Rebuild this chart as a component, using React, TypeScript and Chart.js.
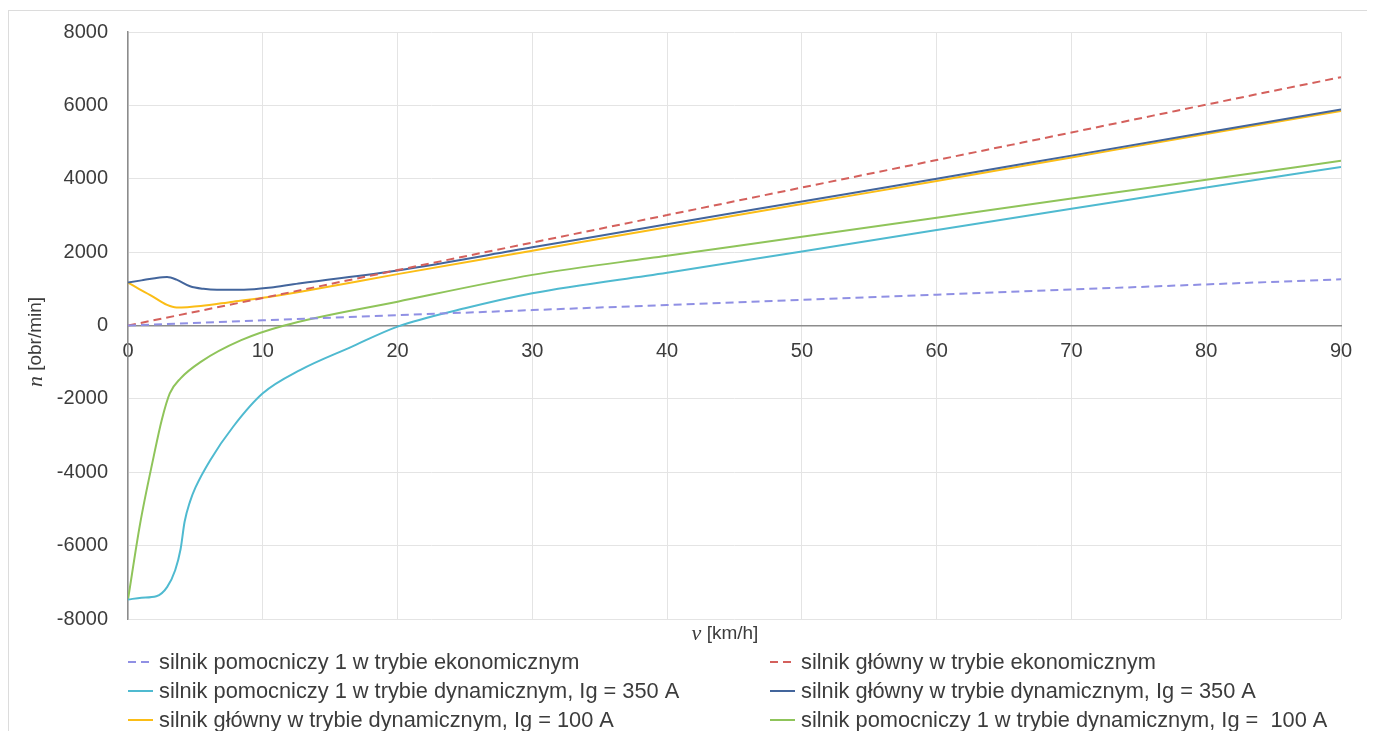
import React, { useEffect, useRef } from "react";
import { Chart, registerables } from "chart.js";

Chart.register(...registerables);

// ---- data ----
const V_LIN = [0, 10, 20, 30, 40, 50, 60, 70, 80, 90];
const N_AUX_ECO = [0, 140, 280, 420, 560, 700, 840, 980, 1120, 1260];
const N_MAIN_ECO = [0, 750, 1510, 2260, 3010, 3760, 4510, 5260, 6020, 6770];

const V_MAIN_350 = [0, 1, 2, 2.9, 3.6, 4.6, 5.6, 6.6, 8.6, 10.8, 12.8, 20, 30, 40, 50, 60, 70, 80, 90];
const N_MAIN_350 = [1170, 1230, 1290, 1320, 1250, 1070, 1000, 975, 975, 1045, 1150, 1500, 2130, 2760, 3380, 4000, 4630, 5260, 5890];

const V_MAIN_100 = [0, 0.8, 1.65, 2.9, 3.6, 4.4, 5.4, 7.8, 10.3, 12.8, 20, 30, 40, 50, 60, 70, 80, 90];
const N_MAIN_100 = [1170, 1000, 830, 560, 490, 500, 530, 650, 770, 920, 1400, 2040, 2680, 3310, 3940, 4580, 5220, 5850];

const V_AUX_100 = [0, 0.9, 1.9, 2.5, 3.1, 3.9, 5.4, 8.4, 11.6, 20, 30, 40, 50, 60, 70, 80, 90];
const N_AUX_100 = [-7470, -5400, -3580, -2580, -1850, -1440, -990, -400, 0, 650, 1380, 1900, 2420, 2940, 3460, 3970, 4490];

const V_AUX_350 = [0, 1, 2.1, 2.9, 3.5, 3.9, 4.2, 4.6, 5.0, 6.1, 7.8, 10.0, 12.8, 16.5, 20, 25, 30, 40, 50, 60, 70, 80, 90];
const N_AUX_350 = [-7470, -7420, -7380, -7130, -6670, -6100, -5350, -4800, -4420, -3670, -2760, -1850, -1210, -595, -30, 470, 880, 1440, 2020, 2600, 3180, 3760, 4320];

const X_MIN = 0;
const X_MAX = 90;
const X_STEP = 10;
const Y_MIN = -8000;
const Y_MAX = 8000;
const Y_STEP = 2000;

const LABELS = [
  "silnik pomocniczy 1 w trybie ekonomicznym",
  "silnik główny w trybie ekonomicznym",
  "silnik pomocniczy 1 w trybie dynamicznym, Ig = 350 A",
  "silnik główny w trybie dynamicznym, Ig = 350 A",
  "silnik główny w trybie dynamicznym, Ig = 100 A",
  "silnik pomocniczy 1 w trybie dynamicznym, Ig =  100 A",
];

const COLORS = ["#9090e4", "#d4605c", "#4fbad0", "#43659c", "#fbbd16", "#8fc45a"];
const DASHED = [true, true, false, false, false, false];

const X_TITLE_V = "v";
const X_TITLE_REST = " [km/h]";
const Y_TITLE_N = "n";
const Y_TITLE_REST = " [obr/min]";

// ---- styling ----
const SANS = '"Liberation Sans", Arial, sans-serif';
const SERIF = '"Liberation Serif", "DejaVu Serif", serif';
const TEXT = "#3c3c3c";
const GRID = "#e4e4e4";
const AXIS = "#8c8c8c";
const DASH = [8, 5];

const toPts = (xs: number[], ys: number[]) => xs.map((x, i) => ({ x, y: ys[i] }));

const overlayPlugin = {
  id: "overlayTitlesLegend",
  afterDraw(chart: any) {
    const ctx: CanvasRenderingContext2D = chart.ctx;
    ctx.save();
    ctx.fillStyle = TEXT;
    ctx.textBaseline = "middle";

    const drawMixed = (a: string, b: string, cx: number, cy: number, rot: number) => {
      ctx.save();
      ctx.translate(cx, cy);
      ctx.rotate(rot);
      const fA = `italic 22px ${SERIF}`;
      const fB = `19px ${SANS}`;
      ctx.font = fA;
      const wA = ctx.measureText(a).width;
      ctx.font = fB;
      const wB = ctx.measureText(b).width;
      const start = -(wA + wB) / 2;
      ctx.textAlign = "left";
      ctx.font = fA;
      ctx.fillText(a, start, 0);
      ctx.font = fB;
      ctx.fillText(b, start + wA, 0);
      ctx.restore();
    };

    drawMixed(X_TITLE_V, X_TITLE_REST, 716, 623, 0);
    drawMixed(Y_TITLE_N, Y_TITLE_REST, 27, 331, -Math.PI / 2);

    // legend, two columns
    const cols = [
      { sx: 119, ex: 144, tx: 150 },
      { sx: 761, ex: 786, tx: 792 },
    ];
    const rows = [651, 680, 709];
    ctx.font = `21.8px ${SANS}`;
    ctx.textAlign = "left";
    LABELS.forEach((label, i) => {
      const c = cols[i % 2];
      const y = rows[Math.floor(i / 2)];
      ctx.save();
      ctx.strokeStyle = COLORS[i];
      ctx.lineWidth = 2;
      ctx.setLineDash(DASHED[i] ? DASH : []);
      ctx.beginPath();
      ctx.moveTo(c.sx, y);
      ctx.lineTo(c.ex, y);
      ctx.stroke();
      ctx.restore();
      ctx.fillStyle = TEXT;
      ctx.fillText(label, c.tx, y + 1);
    });
    ctx.restore();
  },
};

export default function App() {
  const ref = useRef<HTMLCanvasElement | null>(null);

  useEffect(() => {
    if (!ref.current) return;
    const series = [
      toPts(V_LIN, N_AUX_ECO),
      toPts(V_LIN, N_MAIN_ECO),
      toPts(V_AUX_350, N_AUX_350),
      toPts(V_MAIN_350, N_MAIN_350),
      toPts(V_MAIN_100, N_MAIN_100),
      toPts(V_AUX_100, N_AUX_100),
    ];
    const chart = new Chart(ref.current, {
      type: "line",
      data: {
        datasets: series.map((data, i) => ({
          label: LABELS[i],
          data,
          borderColor: COLORS[i],
          backgroundColor: COLORS[i],
          borderWidth: 2,
          borderDash: DASHED[i] ? DASH : [],
          pointRadius: 0,
          fill: false,
          cubicInterpolationMode: "monotone" as const,
        })),
      },
      options: {
        responsive: false,
        animation: false,
        layout: { padding: { left: 0, right: 26, top: 21, bottom: 114 } },
        plugins: {
          legend: { display: false },
          tooltip: { enabled: false },
          title: { display: false },
        },
        scales: {
          x: {
            type: "linear",
            position: { y: 0 } as any,
            min: X_MIN,
            max: X_MAX,
            afterFit: (s: any) => {
              s.height = 0;
            },
            grid: { color: GRID, drawTicks: false, lineWidth: 1 },
            border: { display: true, color: AXIS, width: 1.5 },
            ticks: {
              stepSize: X_STEP,
              padding: 14,
              color: TEXT,
              font: { family: SANS, size: 20 },
              maxRotation: 0,
              callback: (v: any) => String(v),
            },
          },
          y: {
            type: "linear",
            min: Y_MIN,
            max: Y_MAX,
            afterFit: (s: any) => {
              s.width = 119;
              s.paddingTop = 0;
              s.paddingBottom = 0;
            },
            grid: { color: GRID, drawTicks: false, lineWidth: 1 },
            border: { display: true, color: AXIS, width: 1.5 },
            ticks: {
              stepSize: Y_STEP,
              padding: 20,
              color: TEXT,
              font: { family: SANS, size: 20 },
              callback: (v: any) => String(v),
            },
          },
        },
      },
      plugins: [overlayPlugin],
    });
    return () => chart.destroy();
  }, []);

  return (
    <div
      style={{
        position: "relative",
        top: 2,
        width: 1358,
        height: 722,
        border: "1px solid #dcdcdc",
        borderBottom: "none",
        background: "#fff",
      }}
    >
      <canvas ref={ref} width={1358} height={722} style={{ display: "block", width: 1358, height: 722 }} />
    </div>
  );
}
